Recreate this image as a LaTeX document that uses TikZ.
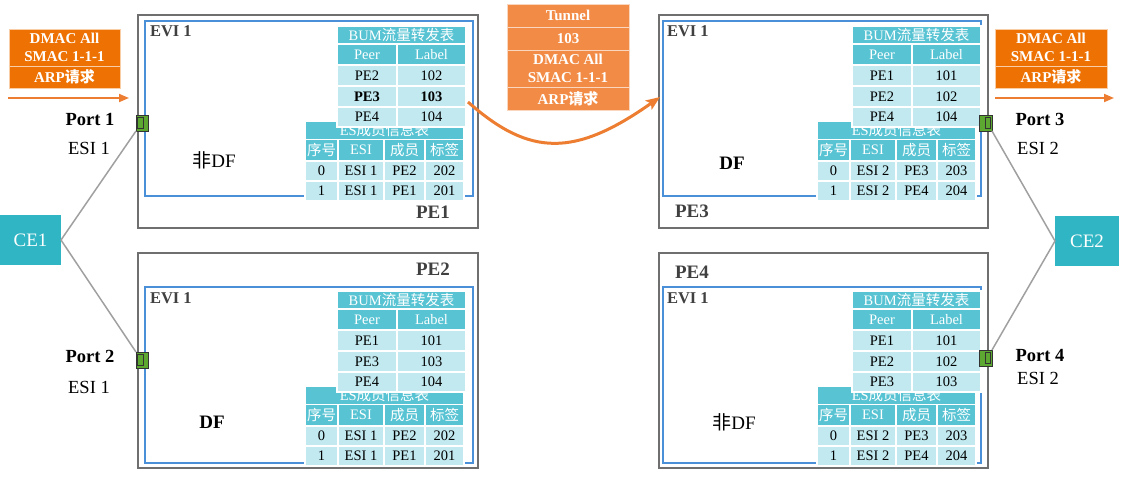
\documentclass[tikz,border=0pt]{standalone}
\usepackage{fontspec}
\setmainfont{Liberation Serif}
\newfontfamily\cjk{Noto Sans CJK SC}
\usetikzlibrary{arrows.meta}
\definecolor{cHead}{HTML}{57C3D3}
\definecolor{cBody}{HTML}{C1E9EF}
\definecolor{cCE}{HTML}{2FB5C3}
\definecolor{cOrg}{HTML}{EE7203}
\definecolor{cTun}{HTML}{F28B45}
\definecolor{cArr}{HTML}{ED7D31}
\definecolor{cBlue}{HTML}{4A90D9}
\definecolor{cGray}{HTML}{6F6F6F}
\definecolor{cGreen}{HTML}{5CA830}
\definecolor{cTxt}{HTML}{404040}
\definecolor{cLink}{HTML}{A0A0A0}
% #1 name, #2 x0, #3 y0, #4 x1, #5 y1, #6 style, #7 text
\newcommand\tcell[7]{%
  \node[#6, minimum width={(#4-#2)*1pt}, minimum height={(#5-#3)*1pt}] (#1) at ({(#2+#4)/2},{(#3+#5)/2}) {#7};}
% BUM table: prefix dx dy r1a r1b r2a r2b r3a r3b
\newcommand\bumtab[9]{%
  \begin{scope}[shift={(#2,#3)}]
  \tcell{#1t}{337}{26}{466}{44}{thd}{BUM{\cjk 流量转发表}}
  \tcell{#1h1}{337}{44}{397}{65}{thd}{Peer}
  \tcell{#1h2}{397}{44}{466}{65}{thd}{Label}
  \tcell{#1a1}{337}{65}{397}{86}{tbd}{#4}
  \tcell{#1a2}{397}{65}{466}{86}{tbd}{#5}
  \tcell{#1b1}{337}{86}{397}{107}{tbd}{#6}
  \tcell{#1b2}{397}{86}{466}{107}{tbd}{#7}
  \tcell{#1c1}{337}{107}{397}{127}{tbd}{#8}
  \tcell{#1c2}{397}{107}{466}{127}{tbd}{#9}
  \end{scope}}
% ES table: prefix dx dy esi m0 l0 m1 l1
\newcommand\estab[8]{%
  \begin{scope}[shift={(#2,#3)}]
  \tcell{#1t}{305}{121}{464}{139.5}{thd}{ES{\cjk 成员信息表}}
  \tcell{#1h1}{305}{139.5}{338}{161}{thd}{{\cjk 序号}}
  \tcell{#1h2}{338}{139.5}{384}{161}{thd}{ESI}
  \tcell{#1h3}{384}{139.5}{425}{161}{thd}{{\cjk 成员}}
  \tcell{#1h4}{425}{139.5}{464}{161}{thd}{{\cjk 标签}}
  \tcell{#1a1}{305}{161}{338}{181}{tbd}{0}
  \tcell{#1a2}{338}{161}{384}{181}{tbd}{#4}
  \tcell{#1a3}{384}{161}{425}{181}{tbd}{#5}
  \tcell{#1a4}{425}{161}{464}{181}{tbd}{#6}
  \tcell{#1b1}{305}{181}{338}{201}{tbd}{1}
  \tcell{#1b2}{338}{181}{384}{201}{tbd}{#4}
  \tcell{#1b3}{384}{181}{425}{201}{tbd}{#7}
  \tcell{#1b4}{425}{181}{464}{201}{tbd}{#8}
  \end{scope}}
\begin{document}
\begin{tikzpicture}[x=1pt,y=-1pt,
  every node/.style={inner sep=0pt, outer sep=0pt},
  tcellbase/.style={draw=white, line width=1.2pt, rectangle},
  thd/.style={tcellbase, fill=cHead, text=white, font=\fontsize{14.5}{17}\selectfont},
  tbd/.style={tcellbase, fill=cBody, text=black, font=\fontsize{14.5}{17}\selectfont},
  pebox/.style={draw=cGray, line width=1.5pt, rectangle},
  evibox/.style={draw=cBlue, line width=1.4pt, rectangle},
  evitxt/.style={font=\bfseries\fontsize{16.5}{18}\selectfont, text=cTxt, anchor=west},
  petxt/.style={font=\bfseries\fontsize{19}{21}\selectfont, text=cTxt},
  dftxt/.style={font=\fontsize{19}{21}\selectfont, text=black},
  porttxt/.style={font=\bfseries\fontsize{18.5}{21}\selectfont},
  esitxt/.style={font=\fontsize{18.5}{21}\selectfont},
  obox/.style={fill=cOrg, draw=cOrg!35!white, line width=0.8pt, text=white, align=center, font=\bfseries\fontsize{15}{18}\selectfont},
  tbox/.style={fill=cTun, draw=cTun!35!white, line width=0.8pt, text=white, align=center, font=\bfseries\fontsize{15}{18}\selectfont},
  oarr/.style={draw=cArr, line width=1.8pt, -{Triangle[length=10pt,width=8pt]}},
  tarr/.style={draw=cArr, line width=3pt, -{Stealth[length=14pt,width=11pt,inset=3pt]}},
  link/.style={draw=cLink, line width=1.5pt},
  cebox/.style={fill=cCE, text=white, font=\fontsize{19}{21}\selectfont, rectangle},
  portsq/.style={fill=cGreen, draw=black!80, line width=1pt, rectangle},
  portin/.style={draw=black!80, line width=0.9pt}
]
\useasboundingbox (0,0) rectangle (1134,480);

% ---------- PE boxes ----------
\tcell{pe1}{138}{15}{478}{228}{pebox}{}
\tcell{pe2}{138}{253}{478}{468}{pebox}{}
\tcell{pe3}{659}{15}{988}{228}{pebox}{}
\tcell{pe4}{659}{253}{988}{468}{pebox}{}
\tcell{evi1}{145}{21}{473}{196}{evibox}{}
\tcell{evi2}{145}{287}{473}{463}{evibox}{}
\tcell{evi3}{663}{21}{981}{196}{evibox}{}
\tcell{evi4}{663}{287}{981}{463}{evibox}{}

\node[evitxt] (ev1t) at (150,31) {EVI 1};
\node[evitxt] (ev2t) at (150,298) {EVI 1};
\node[evitxt] (ev3t) at (667,31) {EVI 1};
\node[evitxt] (ev4t) at (667,298) {EVI 1};

\node[petxt] (pe1t) at (433,212) {PE1};
\node[petxt] (pe2t) at (433,269) {PE2};
\node[petxt] (pe3t) at (692,211) {PE3};
\node[petxt] (pe4t) at (692,272) {PE4};

\node[dftxt] (df1) at (214,160) {{\cjk 非}DF};
\node[dftxt, font=\bfseries\fontsize{19}{21}\selectfont] (df2) at (212,422) {DF};
\node[dftxt, font=\bfseries\fontsize{19}{21}\selectfont] (df3) at (732,163) {DF};
\node[dftxt] (df4) at (734,422) {{\cjk 非}DF};

% ---------- tables ----------
\estab{es1}{0}{0}{ESI 1}{PE2}{202}{PE1}{201}
\bumtab{bu1}{0}{0}{PE2}{102}{\textbf{PE3}}{\textbf{103}}{PE4}{104}
\estab{es2}{0}{265}{ESI 1}{PE2}{202}{PE1}{201}
\bumtab{bu2}{0}{265}{PE1}{101}{PE3}{103}{PE4}{104}
\estab{es3}{512}{0}{ESI 2}{PE3}{203}{PE4}{204}
\bumtab{bu3}{515}{0}{PE1}{101}{PE2}{102}{PE4}{104}
\estab{es4}{512}{265}{ESI 2}{PE3}{203}{PE4}{204}
\bumtab{bu4}{515}{265}{PE1}{101}{PE2}{102}{PE3}{103}

% ---------- CEs and ports ----------
\tcell{ce1}{0}{215}{61}{265}{cebox}{CE1}
\tcell{ce2}{1055}{216}{1119}{266}{cebox}{CE2}

\tcell{p1}{136}{115}{148}{131}{portsq}{}
\tcell{p2}{136}{352}{148}{368}{portsq}{}
\tcell{p3}{979}{115}{992}{131}{portsq}{}
\tcell{p4}{979}{350}{992}{366}{portsq}{}
\draw[portin] (137.5,117) rectangle (143,128);
\draw[portin] (137.5,354) rectangle (143,365);
\draw[portin] (985,117) rectangle (990.5,128);
\draw[portin] (985,352) rectangle (990.5,363);

\draw[link] (ce1.east) -- (p1.south west);
\draw[link] (ce1.east) -- (p2.north west);
\draw[link] (ce2.west) -- (p3.south east);
\draw[link] (ce2.west) -- (p4.north east);

\node[porttxt] (pt1) at (90,119) {Port 1};
\node[esitxt] (es1l) at (89,148) {ESI 1};
\node[porttxt] (pt2) at (90,356) {Port 2};
\node[esitxt] (es2l) at (89,387) {ESI 1};
\node[porttxt] (pt3) at (1040,119) {Port 3};
\node[esitxt] (es3l) at (1038,148) {ESI 2};
\node[porttxt] (pt4) at (1040,355) {Port 4};
\node[esitxt] (es4l) at (1038,378) {ESI 2};

% ---------- packets ----------
\tcell{lo1}{9}{29}{120}{66}{obox}{DMAC All\\SMAC 1-1-1}
\tcell{lo2}{9}{66}{120}{88}{obox}{ARP{\cjk 请求}}
\tcell{ro1}{995}{29}{1107}{66}{obox}{DMAC All\\SMAC 1-1-1}
\tcell{ro2}{995}{66}{1107}{88}{obox}{ARP{\cjk 请求}}

\tcell{tu1}{507}{4}{629}{27}{tbox}{Tunnel}
\tcell{tu2}{507}{27}{629}{50}{tbox}{103}
\tcell{tu3}{507}{50}{629}{87}{tbox}{DMAC All\\SMAC 1-1-1}
\tcell{tu4}{507}{87}{629}{110}{tbox}{ARP{\cjk 请求}}

\coordinate (la0) at (8,98);
\coordinate (la1) at (129,98);
\coordinate (ra0) at (995,98);
\coordinate (ra1) at (1114,98);
\draw[oarr] (la0) -- (la1);
\draw[oarr] (ra0) -- (ra1);

\coordinate (cs) at (468,102);
\coordinate (cend) at (660,97);
\draw[tarr] (cs) .. controls (530,157) and (575,157) .. (cend);
\end{tikzpicture}
\end{document}
